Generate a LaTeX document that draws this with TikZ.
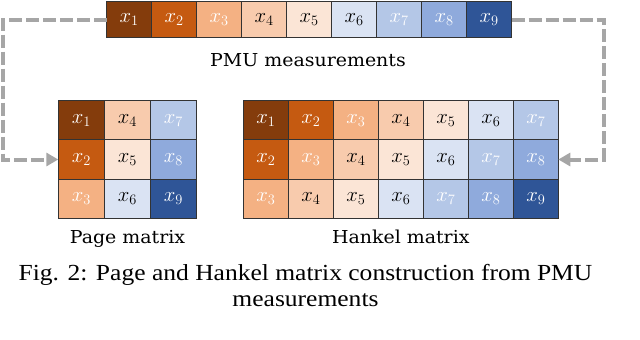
\documentclass[tikz,border=0pt]{standalone}
\usepackage{fontspec}
\setmainfont{Liberation Serif}
\newfontfamily\labfont[FakeStretch=1.065]{DejaVu Serif}
\newfontfamily\capfont[FakeStretch=1.11]{Liberation Serif}
\usetikzlibrary{arrows.meta}
\definecolor{c1}{HTML}{843C0C}
\definecolor{c2}{HTML}{C55A11}
\definecolor{c3}{HTML}{F4B183}
\definecolor{c4}{HTML}{F8CBAD}
\definecolor{c5}{HTML}{FBE5D6}
\definecolor{c6}{HTML}{DAE3F3}
\definecolor{c7}{HTML}{B4C7E7}
\definecolor{c8}{HTML}{8FAADC}
\definecolor{c9}{HTML}{2F5597}
\colorlet{tc1}{white}\colorlet{tc2}{white}\colorlet{tc3}{white}
\colorlet{tc4}{black}\colorlet{tc5}{black}\colorlet{tc6}{black}
\colorlet{tc7}{white}\colorlet{tc8}{white}\colorlet{tc9}{white}
\definecolor{dashgray}{HTML}{A6A6A6}
\tikzset{
  cell/.style={draw=black!80, line width=0.9pt, inner sep=0pt, outer sep=0pt,
    font=\fontsize{20}{22}\selectfont},
  topcell/.style={cell, minimum width=45pt, minimum height=36pt},
  matcell/.style={cell, minimum height=39.2pt},
  val/.style={fill=c#1, text=tc#1},
  dashline/.style={draw=dashgray, line width=4pt, dash pattern=on 13pt off 4pt,
    -{Triangle[length=12pt,width=13pt]}},
  lab/.style={font=\labfont\fontsize{17.8}{20}\selectfont, inner sep=0pt, anchor=base},
  captext/.style={font=\capfont\fontsize{23}{26}\selectfont, inner sep=0pt, anchor=base}
}
\begin{document}
\begin{tikzpicture}[x=1pt,y=-1pt]
\useasboundingbox (0,0) rectangle (640,340);
% top row
\foreach \i in {1,...,9} {
  \node[topcell, val=\i] (t\i) at ({106.7+45*(\i-0.5)},19.7) {$x_{\i}$};
}
\node[lab] (pmu) at (308,66.7) {PMU measurements};
% page matrix
\foreach \r in {1,2,3} {
  \foreach \c in {1,2,3} {
    \pgfmathtruncatemacro{\v}{3*(\c-1)+\r}
    \node[matcell, minimum width=46pt, val=\v] (p\r\c) at ({58.3+46*(\c-0.5)},{100.7+39.2*(\r-0.5)}) {$x_{\v}$};
  }
}
% hankel matrix
\foreach \r in {1,2,3} {
  \foreach \c in {1,...,7} {
    \pgfmathtruncatemacro{\v}{\r+\c-1}
    \node[matcell, minimum width=45pt, val=\v] (h\r\c) at ({243.3+45*(\c-0.5)},{100.7+39.2*(\r-0.5)}) {$x_{\v}$};
  }
}
\node[lab] (plab) at (127.5,243.3) {Page matrix};
\node[lab] (hlab) at (400.8,243.3) {Hankel matrix};
% connectors
\coordinate (lc) at (2.7,0);
\coordinate (rc) at (604,0);
\draw[dashline] (t1.west) -- (t1.west -| lc) |- (p21.west);
\draw[dashline] (t9.east) -- (t9.east -| rc) |- (h27.east);
% caption
\node[captext] (cap1) at (305.5,280) {Fig. 2: Page and Hankel matrix construction from PMU};
\node[captext] (cap2) at (305.5,306) {measurements};
\end{tikzpicture}
\end{document}
